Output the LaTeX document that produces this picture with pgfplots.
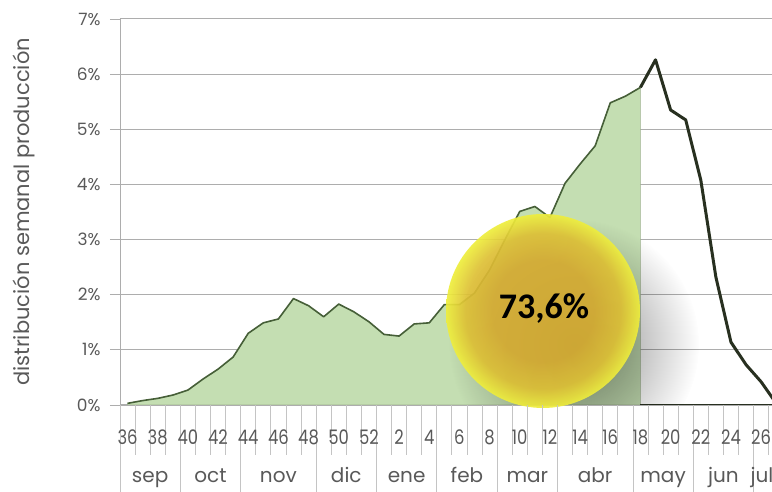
\documentclass[border=0pt]{standalone}
\usepackage{fontspec}
\setmainfont{Poppins}
\newfontfamily\carlito{Carlito}
\newfontfamily\narrow{Poppins}[FakeStretch=0.82]
\usepackage{pgfplots}
\usepackage{pgfplotstable}
\pgfplotsset{compat=1.18}
\usetikzlibrary{fadings}

\definecolor{txt}{HTML}{595959}
\definecolor{gridc}{HTML}{ADADAD}
\definecolor{tickc}{HTML}{C4C4C4}
\definecolor{areafill}{HTML}{C4DEB2}
\definecolor{areal}{HTML}{465F38}
\definecolor{darkl}{HTML}{283020}
\definecolor{ballin}{HTML}{D6AC32}
\definecolor{ballout}{HTML}{EEEE3C}

\pgfdeclareradialshading{ball}{\pgfpoint{0bp}{0bp}}{color(0bp)=(ballin); color(13bp)=(ballin); color(20bp)=(ballin!70!ballout); color(25bp)=(ballout); color(50bp)=(ballout)}
\tikzfading[name=softshadow, inner color=transparent!0, outer color=transparent!100]

% semanas 36..52 y 1..27, indice 0..43
\pgfplotstableread{
i v
0 0.03
1 0.08
2 0.12
3 0.18
4 0.27
5 0.47
6 0.65
7 0.87
8 1.30
9 1.49
10 1.56
11 1.93
12 1.80
13 1.60
14 1.83
15 1.69
16 1.51
17 1.28
18 1.25
19 1.47
20 1.49
21 1.82
22 1.82
23 2.03
24 2.45
25 2.99
26 3.51
27 3.60
28 3.40
29 4.02
30 4.37
31 4.70
32 5.48
33 5.60
34 5.76
}\hechos

\pgfplotstableread{
i v
34 5.76
35 6.26
36 5.35
37 5.17
38 4.08
39 2.32
40 1.14
41 0.73
42 0.42
43 0.03
}\resto

\begin{document}
\begin{tikzpicture}
\begin{axis}[
    at={(0,0)}, anchor=south west,
    scale only axis, width=652pt, height=386pt,
    xmin=-0.5, xmax=42.72, ymin=0, ymax=7,
    clip mode=individual,
    axis x line*=bottom, axis y line*=left,
    axis line style={draw=gridc, line width=0.8pt, -},
    ytick={0,...,7},
    yticklabel={\pgfmathprintnumber{\tick}\%},
    yticklabel style={xshift=-6pt},
    /pgf/number format/assume math mode=true,
    ymajorgrids,
    grid style={draw=gridc, line width=1pt},
    ytick style={draw=gridc, line width=0.8pt},
    tick align=outside,
    major tick length=10pt,
    xtick=\empty,
    extra x ticks={-0.5,3.5,7.5,12.5,16.5,20.5,24.5,28.5,33.5,37.5,41.5},
    extra x tick labels={},
    extra x tick style={major tick length=87pt,
        xtick style={draw=tickc, line width=0.8pt}},
    tick label style={font=\fontsize{17}{17}\selectfont, text=txt},
    ylabel={distribución semanal producción},
    ylabel style={at={(axis description cs:-0.147,0.5)}, anchor=center,
        font=\fontsize{21}{21}\selectfont, text=txt},
]
\addplot[fill=areafill, draw=areafill!80!black, line width=0.5pt] table[x=i, y=v] {\hechos} \closedcycle;
\addplot[areal, line width=1.6pt, line join=round] table[x=i, y=v] {\hechos};
\addplot[darkl, line width=3pt, line join=round] table[x=i, y=v] {\resto};
\addplot[darkl, line width=1.5pt] coordinates {(34,0) (43,0)};

\begin{scope}
\clip (axis cs:-0.5,0) rectangle (axis cs:42.72,7);
\fill[black, opacity=0.5, path fading=softshadow] (axis cs:29.6,1.1) circle[radius=125pt];
\end{scope}
\shade[shading=ball, opacity=0.92] (axis cs:27.54,1.705) circle[radius=97pt];
\node[font=\carlito\bfseries\fontsize{36}{36}\selectfont, text=black] at (axis cs:27.61,1.741) {73,6\%};

% rayitas de semana bajo el eje
\foreach \k in {0.5,1.5,...,42.5}{
  \edef\tmp{\noexpand\draw[tickc, line width=0.8pt] (axis cs:\k,0) -- ([yshift=-50pt]axis cs:\k,0);}
  \tmp
}
% etiquetas de semana (cada dos)
\foreach \p/\l in {0/36,2/38,4/40,6/42,8/44,10/46,12/48,14/50,16/52,18/2,20/4,22/6,24/8,26/10,28/12,30/14,32/16,34/18,36/20,38/22,40/24,42/26}{
  \edef\tmp{\noexpand\node[anchor=base, font=\noexpand\narrow\noexpand\fontsize{20}{20}\noexpand\selectfont, text=txt, inner sep=0pt]
    at (axis cs:\p,0) [yshift=-40pt] {\l};}
  \tmp
}
% meses
\foreach \p/\l in {1.5/sep,5.5/oct,10/nov,14.5/dic,18.5/ene,22.5/feb,26.5/mar,31/abr,35.5/may,39.5/jun,42.06/jul}{
  \edef\tmp{\noexpand\node[anchor=base, font=\noexpand\fontsize{20}{20}\noexpand\selectfont, text=txt, inner sep=0pt]
    at (axis cs:\p,0) [yshift=-78pt] {\l};}
  \tmp
}
\end{axis}
\pgfresetboundingbox
\path[use as bounding box] (-120pt,-87pt) rectangle (652pt,405pt);
\end{tikzpicture}
\end{document}
